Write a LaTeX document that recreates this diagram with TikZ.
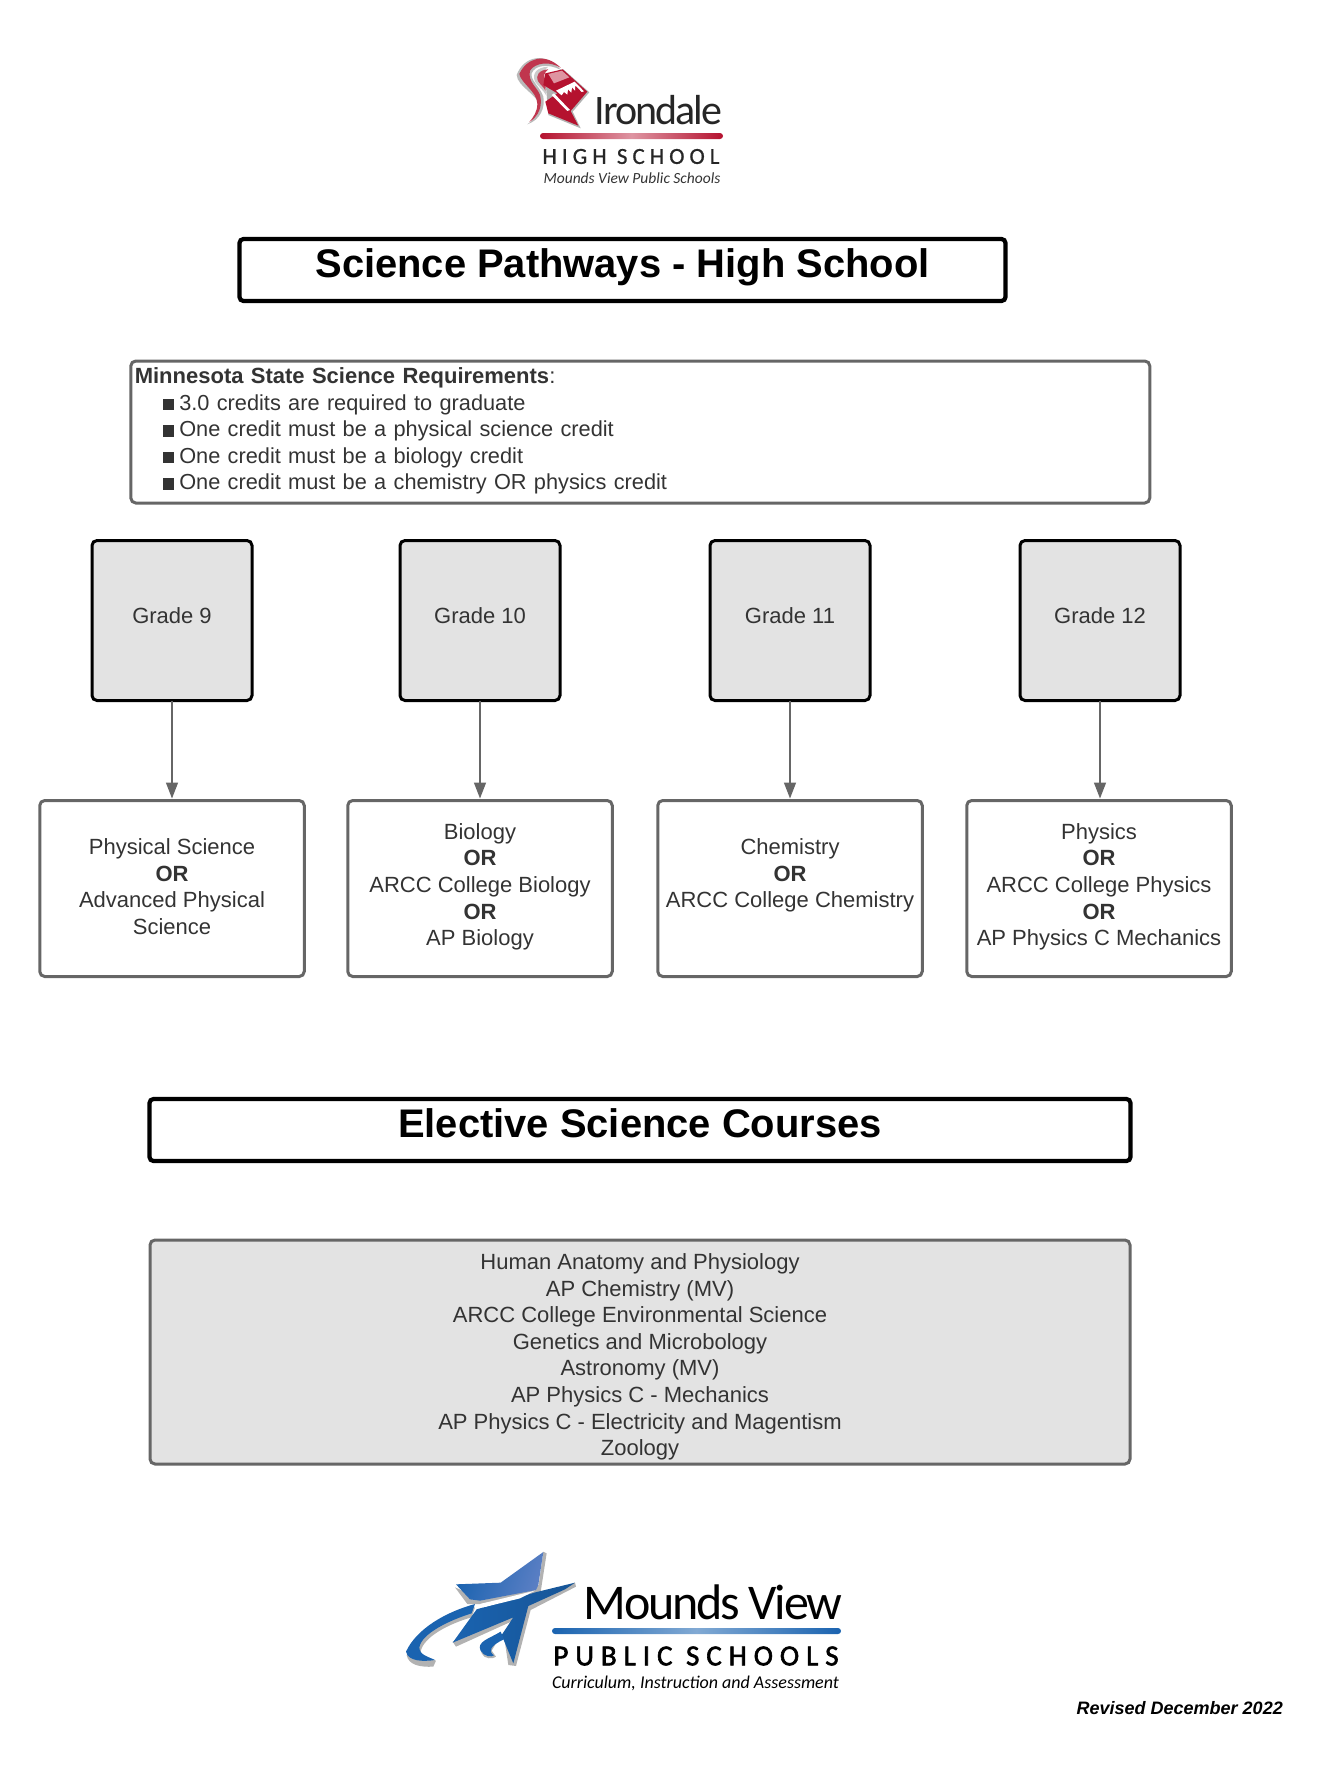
\documentclass[tikz,border=0pt]{standalone}
\usepackage{fontspec}
\usepackage{xcolor}
\usetikzlibrary{arrows.meta,positioning,calc}
\setmainfont{Liberation Sans}
\newfontfamily\logofont{Carlito}
\newfontfamily\logotight[LetterSpace=-4.5]{Carlito}
\newfontfamily\logowide[LetterSpace=22,FakeBold=.8]{Carlito}
\newfontfamily\logowider[LetterSpace=24,FakeBold=2]{Carlito}
\definecolor{inkdark}{HTML}{333333}
\definecolor{framegray}{HTML}{666666}
\definecolor{panelgray}{HTML}{E3E3E3}
\definecolor{knightred}{HTML}{B5122F}
\definecolor{planeblue}{HTML}{1A63B0}
\definecolor{wingblue}{HTML}{5B7FC4}
\newcommand{\liftup}[1]{\\[\dimexpr#1-26.6pt\relax]\mbox{}}
\newcommand{\reqitem}[1]{\hspace*{28pt}\rule{11.5pt}{11.5pt}\hspace{5pt}{\fontsize{21.75}{26.6}\selectfont#1}}
\tikzset{
  bodyfont/.style={font=\fontsize{22}{26.6}\selectfont,text=inkdark},
  titlebox/.style={draw=black,line width=4.2pt,rounded corners=4pt,inner sep=0,outer sep=0,align=center,font=\fontsize{39.9}{46}\selectfont\bfseries,text=black},
  gradebox/.style={bodyfont,draw=black,fill=panelgray,line width=3pt,rounded corners=5pt,minimum width=160pt,minimum height=160pt,inner sep=0,outer sep=0,align=center},
  coursebox/.style={bodyfont,draw=framegray,line width=3pt,rounded corners=5pt,minimum width=264.5pt,minimum height=176pt,inner sep=0,outer sep=0,align=center},
  stepline/.style={draw=framegray,line width=1.5pt,-{Triangle[length=16pt,width=12pt]},shorten >=2pt},
}
\begin{document}
\begin{tikzpicture}[x=1pt,y=-1pt]
\useasboundingbox (0,0) rectangle (1340,1780);
\begin{scope}[shift={(480,30)},x=.3333pt,y=-.3333pt]
\fill[gray!55] (243,120) .. controls (195,62) and (130,80) .. (110,135) .. controls (112,170) and (175,195) .. (178,228) .. controls (175,255) and (160,270) .. (142,283) .. controls (180,270) and (196,235) .. (190,200) .. controls (180,170) and (150,150) .. (155,130) .. controls (165,105) and (205,100) .. (243,120) -- cycle;
\fill[knightred!85] (243,114) .. controls (195,66) and (140,84) .. (118,132) .. controls (123,160) and (172,185) .. (172,222) .. controls (172,245) and (160,262) .. (148,276) .. controls (178,258) and (188,225) .. (180,195) .. controls (172,172) and (142,155) .. (150,122) .. controls (165,98) and (210,92) .. (243,114) -- cycle;
\fill[gray!40] (205,110) .. controls (170,112) and (155,130) .. (165,155) .. controls (175,170) and (190,180) .. (198,195) -- (200,150) .. controls (185,135) and (190,122) .. (205,110) -- cycle;
\fill[knightred!80] (205,118) .. controls (178,120) and (165,135) .. (175,155) .. controls (182,165) and (192,172) .. (196,182) -- (198,150) .. controls (188,140) and (192,128) .. (205,118) -- cycle;
\fill[gray!60] (195,135) -- (250,118) -- (328,187) -- (278,245) -- (302,295) -- (205,255) -- cycle;
\fill[knightred] (196,130) -- (248,118) -- (322,185) -- (272,243) -- (295,287) -- (205,250) -- (196,215) -- (232,190) -- (190,165) -- cycle;
\fill[white] (228,182) -- (284,155) -- (312,184) -- (305,186) -- (286,166) -- (285,182) -- (276,172) -- (274,188) -- (264,178) -- (262,194) -- (252,186) -- (245,196) -- cycle;
\fill[white!55!knightred] (205,132) -- (246,122) -- (268,142) -- (222,160) -- cycle;
\fill[white] (222,190) -- (270,240) -- (262,243) -- (215,195) -- cycle;
\end{scope}
\node[inner sep=0,font=\logotight\fontsize{42}{42}\selectfont,text=black!85] (irondaletext) at (658.5,110) {Irondale};
\path[left color=knightred,right color=knightred,middle color=knightred!45,rounded corners=3pt] (540,133) rectangle (723,139);
\node[inner sep=0,font=\logowide\fontsize{23}{23}\selectfont,text=black!85] (highschooltext) at (631,156.5) {HIGH SCHOOL};
\node[inner sep=0,font=\logofont\itshape\fontsize{15.5}{16}\selectfont,text=black!80] (moundstext) at (632,178.5) {Mounds View Public Schools};
\node[titlebox,minimum width=766pt,minimum height=62pt] (pathwaystitle) at (622.5,270) {\raisebox{14.6pt}{Science Pathways - High School}};
\node[bodyfont,draw=framegray,line width=3pt,rounded corners=5pt,minimum width=1019pt,minimum height=142pt,inner xsep=4pt,inner ysep=0,outer sep=0,text width=1011pt,align=left] (requirements) at (640.3,432) {\textbf{Minnesota State Science Requirements}:\\
\reqitem{3.0 credits are required to graduate}\\
\reqitem{One credit must be a physical science credit}\\
\reqitem{One credit must be a biology credit}\\
\reqitem{One credit must be a chemistry OR physics credit}\liftup{6.5pt}};
\node[gradebox] (grade9) at (172,620.5) {\raisebox{9pt}{Grade 9}};
\node[gradebox] (grade10) at (480,620.5) {\raisebox{9pt}{Grade 10}};
\node[gradebox] (grade11) at (790,620.5) {\raisebox{9pt}{Grade 11}};
\node[gradebox] (grade12) at (1100,620.5) {\raisebox{9pt}{Grade 12}};
\node[coursebox] (course9) at (172,888.5) {Physical Science\\\textbf{OR}\\Advanced Physical\\Science\liftup{4pt}};
\node[coursebox] (course10) at (480,888.5) {Biology\\\textbf{OR}\\ARCC College Biology\\\textbf{OR}\\AP Biology\liftup{8pt}};
\node[coursebox] (course11) at (790,888.5) {Chemistry\\\textbf{OR}\\ARCC College Chemistry\\\mbox{}\liftup{4pt}};
\node[coursebox] (course12) at (1099,888.5) {Physics\\\textbf{OR}\\ARCC College Physics\\\textbf{OR}\\AP Physics C Mechanics\liftup{8pt}};
\draw[stepline] (grade9) -- (course9);
\draw[stepline] (grade10) -- (course10);
\draw[stepline] (grade11) -- (course11);
\draw[stepline] (grade12) -- (grade12 |- course12.north);
\node[titlebox,minimum width=981pt,minimum height=62pt] (electivetitle) at (640,1130) {\raisebox{14.5pt}{Elective Science Courses}};
\node[bodyfont,draw=framegray,fill=panelgray,line width=3pt,rounded corners=5pt,minimum width=980pt,minimum height=224pt,inner sep=0,outer sep=0,align=center] (electives) at (640,1352) {\mbox{}\\[-1pt]Human Anatomy and Physiology\\AP Chemistry (MV)\\ARCC College Environmental Science\\Genetics and Microbology\\Astronomy (MV)\\AP Physics C - Mechanics\\AP Physics C - Electricity and Magentism\\Zoology};
\begin{scope}[shift={(380,1530)},x=.3333pt,y=-.3333pt]
\fill[gray!60] (80,375) .. controls (110,300) and (200,250) .. (285,232) -- (275,262) .. controls (210,280) and (130,320) .. (122,365) .. controls (125,385) and (150,385) .. (168,392) -- (160,410) .. controls (120,412) and (85,405) .. (80,375) -- cycle;
\fill[planeblue] (78,365) .. controls (110,295) and (200,245) .. (285,222) -- (275,250) .. controls (210,270) and (125,310) .. (118,352) .. controls (118,375) and (145,380) .. (165,390) .. controls (130,395) and (85,395) .. (78,365) -- cycle;
\fill[gray!60] (225,172) -- (262,222) -- (300,222) -- (482,186) -- (500,70) -- (490,65) -- (476,165) -- (300,205) -- cycle;
\shade[left color=planeblue,middle color=wingblue!45,right color=wingblue,shading angle=70] (228,163) -- (362,158) -- (490,66) -- (475,165) -- (468,180) -- (300,212) -- (270,208) -- cycle;
\fill[gray!60] (218,335) -- (228,350) -- (400,272) -- (372,318) -- (385,405) -- (408,408) -- (452,240) -- (588,170) -- (585,158) -- cycle;
\shade[left color=planeblue,right color=planeblue!85!black] (290,238) -- (470,186) -- (585,158) -- (555,178) -- (445,228) -- (400,400) -- (365,315) -- (400,262) -- (218,338) -- cycle;
\fill[white] (300,222) -- (465,182) -- (420,205) -- (310,232) -- cycle;
\fill[gray!60] (365,312) .. controls (335,330) and (290,340) .. (305,370) .. controls (312,388) and (340,388) .. (348,380) -- (335,362) -- cycle;
\fill[planeblue] (362,305) .. controls (330,325) and (288,335) .. (302,362) .. controls (312,380) and (335,382) .. (342,376) .. controls (325,365) and (328,348) .. (372,328) -- cycle;
\end{scope}
\node[inner sep=0,font=\logotight\fontsize{50}{50}\selectfont,text=black] (moundsview) at (713,1602) {Mounds View};
\path[left color=planeblue,right color=planeblue,middle color=planeblue!55,rounded corners=3pt] (552,1628) rectangle (841,1634);
\node[inner sep=0,font=\logowider\fontsize{29}{29}\selectfont,text=black] (publicschools) at (696,1656) {PUBLIC SCHOOLS};
\node[inner sep=0,font=\logofont\itshape\fontsize{18}{20}\selectfont,text=black] (curriculum) at (695.5,1683) {Curriculum, Instruction and Assessment};
\node[inner sep=0,anchor=east,font=\fontsize{18}{22}\selectfont\bfseries\itshape,text=black] (revised) at (1283,1708) {Revised December 2022};
\end{tikzpicture}
\end{document}
